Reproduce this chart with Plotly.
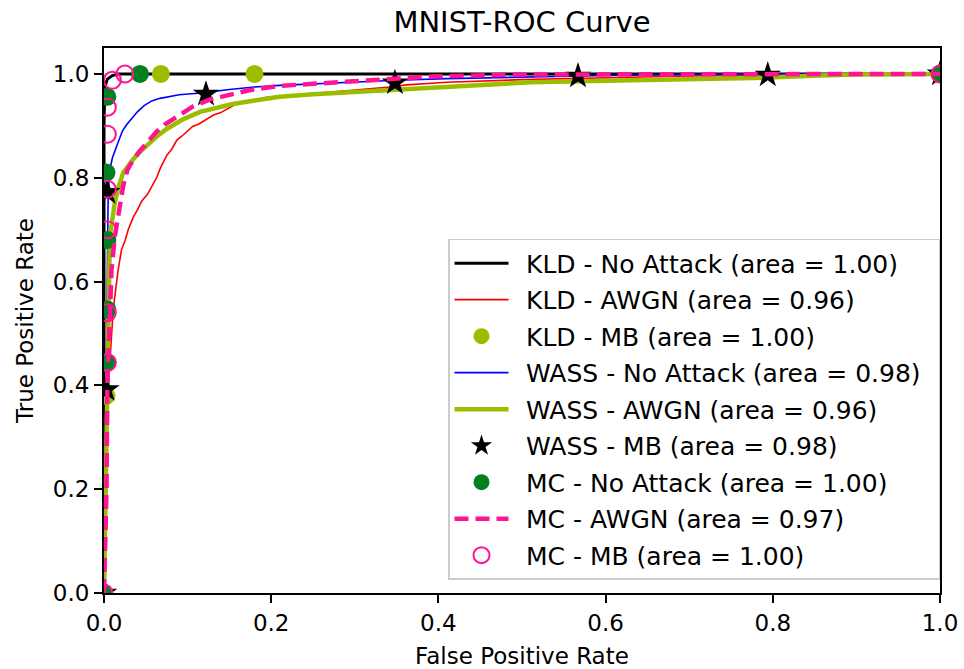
import plotly.graph_objects as go

# ROC curves (false positive rate, true positive rate)
kld_clean_fpr = [0.0, 0.0, 0.001, 0.004, 0.010, 0.017, 1.0]
kld_clean_tpr = [0.0, 0.90, 0.975, 0.99, 0.997, 1.0, 1.0]

kld_awgn_fpr = [0.0, 0.001, 0.002, 0.003, 0.005, 0.0075, 0.0095, 0.011, 0.014, 0.017, 0.021,
                0.023, 0.025, 0.029, 0.035, 0.040, 0.045, 0.052, 0.059, 0.063, 0.067, 0.075,
                0.081, 0.087, 0.093, 0.099, 0.106, 0.114, 0.123, 0.131, 0.139, 0.147, 0.156,
                0.166, 0.180, 0.195, 0.220, 0.250, 0.294, 0.342, 0.362, 0.41, 0.50, 0.60,
                0.70, 0.80, 0.90, 1.0]
kld_awgn_tpr = [0.0, 0.10, 0.22, 0.31, 0.392, 0.46, 0.508, 0.546, 0.585, 0.623, 0.662,
                0.669, 0.678, 0.700, 0.724, 0.738, 0.755, 0.768, 0.788, 0.800, 0.817, 0.843,
                0.855, 0.872, 0.880, 0.888, 0.899, 0.904, 0.913, 0.921, 0.925, 0.932, 0.940,
                0.945, 0.950, 0.955, 0.958, 0.962, 0.968, 0.975, 0.979, 0.984, 0.989, 0.993,
                0.996, 0.998, 0.999, 1.0]

kld_mb_fpr = [0.0, 0.003, 0.068, 0.180, 1.0]
kld_mb_tpr = [0.0, 0.38, 1.0, 1.0, 1.0]

wass_clean_fpr = [0.0, 0.001, 0.002, 0.003, 0.004, 0.005, 0.007, 0.010, 0.014, 0.018, 0.022,
                  0.027, 0.033, 0.040, 0.048, 0.057, 0.067, 0.078, 0.090, 0.105, 0.120, 0.150,
                  0.180, 0.210, 0.250, 0.300, 0.350, 0.410, 0.500, 0.600, 0.700, 0.800, 1.0]
wass_clean_tpr = [0.0, 0.15, 0.35, 0.55, 0.70, 0.77, 0.815, 0.838, 0.856, 0.874, 0.890,
                  0.902, 0.914, 0.927, 0.939, 0.948, 0.953, 0.957, 0.960, 0.962, 0.964, 0.970,
                  0.975, 0.978, 0.981, 0.985, 0.988, 0.991, 0.994, 0.997, 0.999, 1.0, 1.0]

wass_awgn_fpr = [0.0, 0.002, 0.003, 0.005, 0.006, 0.007, 0.010, 0.013, 0.018, 0.023, 0.030,
                 0.035, 0.045, 0.055, 0.065, 0.075, 0.085, 0.095, 0.115, 0.135, 0.154, 0.180,
                 0.210, 0.250, 0.294, 0.350, 0.414, 0.510, 0.600, 0.700, 0.776, 0.856, 0.900, 1.0]
wass_awgn_tpr = [0.0, 0.20, 0.38, 0.50, 0.60, 0.687, 0.72, 0.753, 0.785, 0.810, 0.825,
                 0.836, 0.853, 0.869, 0.882, 0.894, 0.904, 0.913, 0.927, 0.935, 0.942, 0.949,
                 0.956, 0.961, 0.965, 0.971, 0.977, 0.984, 0.987, 0.990, 0.992, 0.997, 0.999, 1.0]

wass_mb_fpr = [0.0, 0.003, 0.004, 0.122, 0.348, 0.567, 0.794, 1.0]
wass_mb_tpr = [0.0, 0.392, 0.772, 0.961, 0.983, 0.996, 0.998, 1.0]

mc_clean_fpr = [0.0, 0.004, 0.004, 0.004, 0.003, 0.004, 0.043, 1.0]
mc_clean_tpr = [0.0, 0.444, 0.546, 0.680, 0.810, 0.956, 1.0, 1.0]

mc_awgn_fpr = [0.0, 0.003, 0.004, 0.006, 0.007, 0.009, 0.013, 0.019, 0.023, 0.028, 0.035,
               0.043, 0.053, 0.063, 0.073, 0.083, 0.095, 0.106, 0.127, 0.154, 0.175, 0.210,
               0.250, 0.294, 0.350, 0.390, 0.500, 1.0]
mc_awgn_tpr = [0.0, 0.20, 0.40, 0.50, 0.56, 0.623, 0.687, 0.753, 0.785, 0.815, 0.835,
               0.852, 0.872, 0.889, 0.903, 0.914, 0.926, 0.937, 0.951, 0.962, 0.969, 0.977,
               0.981, 0.986, 0.991, 0.995, 0.999, 1.0]

mc_mb_fpr = [0.0, 0.004, 0.004, 0.004, 0.004, 0.004, 0.004, 0.010, 0.025, 1.0]
mc_mb_tpr = [0.0, 0.444, 0.540, 0.700, 0.778, 0.884, 0.936, 0.988, 1.0, 1.0]

labels = [
    "KLD - No Attack (area = 1.00)",
    "KLD - AWGN (area = 0.96)",
    "KLD - MB (area = 1.00)",
    "WASS - No Attack (area = 0.98)",
    "WASS - AWGN (area = 0.96)",
    "WASS - MB (area = 0.98)",
    "MC - No Attack (area = 1.00)",
    "MC - AWGN (area = 0.97)",
    "MC - MB (area = 1.00)",
]

YELLOWGREEN = "#9bbd00"
DEEPPINK = "#ff1493"
GREEN = "#008020"
PAD = "\u2002"  # spacing around legend text

fig = go.Figure()

def line(x, y, name, color, width, dash="solid"):
    fig.add_trace(go.Scatter(x=x, y=y, mode="lines", name=PAD + name + PAD, legendgroup=name,
                             line=dict(color=color, width=width, dash=dash)))

def markers(x, y, name, symbol, color, size, line_color=None, line_width=0):
    fig.add_trace(go.Scatter(x=x, y=y, mode="markers", name=PAD + name + PAD, legendgroup=name,
                             marker=dict(symbol=symbol, color=color, size=size,
                                         line=dict(color=line_color or color, width=line_width))))

line(kld_clean_fpr, kld_clean_tpr, labels[0], "black", 3)
line(kld_awgn_fpr, kld_awgn_tpr, labels[1], "red", 1.6)
markers(kld_mb_fpr, kld_mb_tpr, labels[2], "circle", YELLOWGREEN, 18)
line(wass_clean_fpr, wass_clean_tpr, labels[3], "blue", 1.6)
line(wass_awgn_fpr, wass_awgn_tpr, labels[4], YELLOWGREEN, 4.5)
markers(wass_mb_fpr, wass_mb_tpr, labels[5], "star", "black", 20)
markers(mc_clean_fpr, mc_clean_tpr, labels[6], "circle", GREEN, 18)
line(mc_awgn_fpr, mc_awgn_tpr, labels[7], DEEPPINK, 4.5, dash="14px,7px")
markers(mc_mb_fpr, mc_mb_tpr, labels[8], "circle-open", DEEPPINK, 17, DEEPPINK, 2)

FONT = "DejaVu Sans"
axis_common = dict(
    showline=True, linecolor="black", linewidth=2, mirror=True,
    ticks="outside", ticklen=8, tickwidth=2, tickcolor="black",
    showgrid=False, zeroline=False, automargin=False,
    tickfont=dict(family=FONT, size=23, color="black"),
    tickformat=".1f", dtick=0.2, tick0=0,
)

fig.update_layout(
    width=964, height=669,
    margin=dict(l=104, r=24, t=48, b=76),
    paper_bgcolor="white", plot_bgcolor="white",
    title=dict(text="MNIST-ROC Curve", x=522 / 964, xanchor="center",
               y=1 - 22 / 669, yanchor="middle",
               font=dict(family=FONT, size=29, color="black")),
    xaxis=dict(range=[0.0, 1.0], title=dict(text="False Positive Rate", standoff=16,
               font=dict(family=FONT, size=23, color="black")), **axis_common),
    yaxis=dict(range=[0.0, 1.05], title=dict(text="True Positive Rate", standoff=13,
               font=dict(family=FONT, size=23, color="black")), **axis_common),
    legend=dict(x=1.0, y=0.024, xanchor="right", yanchor="bottom",
                bgcolor="rgba(255,255,255,0.85)", bordercolor="#cccccc", borderwidth=1.5,
                font=dict(family=FONT, size=25, color="black"),
                tracegroupgap=1, itemwidth=54),
    showlegend=True,
)

fig.write_html("out.html")
